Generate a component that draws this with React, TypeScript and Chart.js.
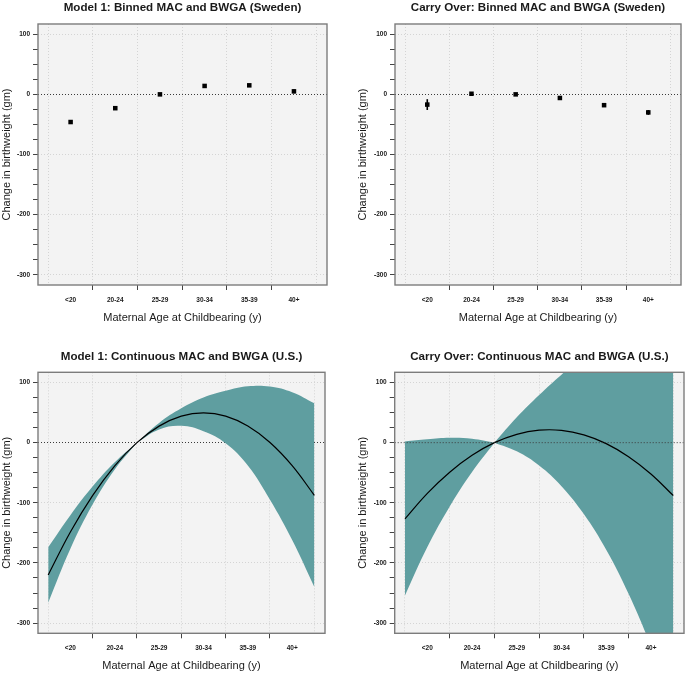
import React, { useEffect, useRef } from 'react';
import { Chart, registerables } from 'chart.js';

Chart.register(...registerables);

const FONT = "'Liberation Sans', Arial, Helvetica, sans-serif";

// ---- shared axis content ----
const ageBins = ['<20', '20-24', '25-29', '30-34', '35-39', '40+'];
const binPos = [1, 2, 3, 4, 5, 6];
const binEdges = [0.5, 1.5, 2.5, 3.5, 4.5, 5.5, 6.5];
const binTickMarks = [1.5, 2.5, 3.5, 4.5, 5.5];
const yTicks = [-300, -275, -250, -225, -200, -175, -150, -125, -100, -75, -50, -25, 0, 25, 50, 75, 100];
const yLabelled = [-300, -200, -100, 0, 100];
const xRange = [0.27, 6.74];
const yRange = [-317, 117];
const zeroRef = 0;

// ---- Panel 1: Model 1, binned (Sweden) ----
const swedenModel1 = [-46, -23, 0, 14, 15, 5];
const swedenModel1Err = [2, 1.5, 0, 1.5, 2, 3];

// ---- Panel 2: Carry over, binned (Sweden) ----
const swedenCarry = [-17, 1, 0, -6, -18, -30];
const swedenCarryErr = [9, 1.5, 0, 1.5, 2, 4];

// ---- continuous panels: positions on the bin axis (age 15 .. 45) ----
const contPos = [0.5, 1, 1.5, 2, 2.5, 3, 3.5, 4, 4.5, 5, 5.5, 6, 6.5];
const refIndex = 4; // reference age (25), where the band pinches to zero

// Panel 3: Model 1, continuous (U.S.)
const usModel1Fit = [-220, -148.5, -88, -38.5, 0, 27.5, 44.1, 49.6, 44.2, 27.7, 0.3, -38.2, -87.5];
const usModel1Upper = [-174, -120.5, -73, -32.5, 0, 32.8, 57.1, 75.1, 86.2, 93.7, 93.3, 83.8, 65.5];
const usModel1Lower = [-266, -176.5, -103, -44.5, 0, 22, 28, 19, -1, -38, -95, -162, -240];

// Panel 4: Carry over, continuous (U.S.)
const usCarryFit = [-126.7, -84.3, -49.1, -21.0, 0, 13.9, 20.7, 20.4, 12.9, -1.6, -23.3, -52.0, -87.9];
const usCarryUpper = [2, 5.5, 8, 6.5, 0, 42.1, 79.3, 113.1, 144.6, 175, 204.7, 234.5, 264.5];
const usCarryLower = [-254, -173.5, -106.1, -48.8, 0, -14.3, -37.9, -72.3, -118.8, -178.2, -251.3, -338.5, -440.3];

const BAND = '#5f9ea0';
const GRID = '#d4d4d4';
const PLOT_BG = '#f3f3f3';
const FRAME = '#7c7c7c';
const TICK = '#444444';
const TEXT = '#1a1a1a';

const pts = (xs: number[], ys: number[]) => xs.map((x, i) => ({ x, y: ys[i] }));

type PanelSpec = {
  left: number; top: number; width: number; height: number;
  padTop: number; padRight: number; yAxisW: number; xAxisH: number;
  xTitlePB: number; yTitlePT: number; titleY: number; title: string;
  datasets: any[];
  errors?: { x: number[]; y: number[]; e: number[] };
  zeroOnGrid: boolean;
};

function makeDecor(spec: PanelSpec) {
  return {
    id: 'panelDecor',
    beforeDraw(chart: any) {
      const { ctx, chartArea: a } = chart;
      ctx.save();
      ctx.fillStyle = PLOT_BG;
      ctx.fillRect(a.left, a.top, a.right - a.left, a.bottom - a.top);
      ctx.restore();
    },
    afterDatasetsDraw(chart: any) {
      const { ctx, chartArea: a } = chart;
      const xs = chart.scales.x;
      const ys = chart.scales.y;
      if (spec.errors) {
        const { x, y, e } = spec.errors;
        ctx.save();
        ctx.strokeStyle = '#000';
        ctx.lineWidth = 1.6;
        for (let i = 0; i < x.length; i++) {
          if (!e[i]) continue;
          const px = xs.getPixelForValue(x[i]);
          ctx.beginPath();
          ctx.moveTo(px, ys.getPixelForValue(y[i] - e[i]));
          ctx.lineTo(px, ys.getPixelForValue(y[i] + e[i]));
          ctx.stroke();
        }
        ctx.restore();
      }
      ctx.save();
      ctx.strokeStyle = FRAME;
      ctx.lineWidth = 1.4;
      ctx.strokeRect(a.left, a.top, a.right - a.left, a.bottom - a.top);
      ctx.restore();
    },
    afterDraw(chart: any) {
      const { ctx, chartArea: a } = chart;
      ctx.save();
      ctx.font = `bold 11.6px ${FONT}`;
      ctx.fillStyle = TEXT;
      ctx.textAlign = 'center';
      ctx.textBaseline = 'alphabetic';
      ctx.fillText(spec.title, (a.left + a.right) / 2, spec.titleY);
      ctx.restore();
    },
  };
}

function Panel({ spec }: { spec: PanelSpec }) {
  const ref = useRef<HTMLCanvasElement | null>(null);
  useEffect(() => {
    if (!ref.current) return;
    const tickFont = { family: FONT, size: 6.5, weight: 'bold' as const };
    const chart = new Chart(ref.current, {
      type: 'line',
      data: { datasets: spec.datasets },
      plugins: [makeDecor(spec)],
      options: {
        animation: false,
        responsive: false,
        devicePixelRatio: 1,
        layout: { padding: { top: spec.padTop, right: spec.padRight, left: 0, bottom: 0 } },
        plugins: { legend: { display: false }, tooltip: { enabled: false }, title: { display: false } },
        elements: { point: { radius: 0 }, line: { capBezierPoints: false } },
        scales: {
          x: {
            type: 'linear',
            min: xRange[0],
            max: xRange[1],
            afterBuildTicks: (s: any) => {
              const vals = [...binEdges, ...binPos].sort((p, q) => p - q);
              s.ticks = vals.map((v) => ({ value: v }));
            },
            afterFit: (s: any) => { s.height = spec.xAxisH; },
            grid: {
              drawOnChartArea: true,
              drawTicks: true,
              tickLength: 5,
              lineWidth: 1,
              color: (c: any) => (c.tick && binEdges.includes(c.tick.value) ? GRID : 'rgba(0,0,0,0)'),
              tickColor: (c: any) => (c.tick && binTickMarks.includes(c.tick.value) ? TICK : 'rgba(0,0,0,0)'),
              tickWidth: 1,
            },
            border: { display: false, dash: [1, 2] },
            ticks: {
              autoSkip: false,
              maxRotation: 0,
              minRotation: 0,
              padding: 6,
              color: TEXT,
              font: tickFont,
              callback: (v: any) => {
                const i = binPos.indexOf(Number(v));
                return i >= 0 ? ageBins[i] : '';
              },
            },
            title: {
              display: true,
              text: 'Maternal Age at Childbearing (y)',
              color: TEXT,
              font: { family: FONT, size: 11 },
              padding: { top: 0, bottom: spec.xTitlePB },
            },
          },
          y: {
            type: 'linear',
            min: yRange[0],
            max: yRange[1],
            afterBuildTicks: (s: any) => { s.ticks = yTicks.map((v) => ({ value: v })); },
            afterFit: (s: any) => { s.width = spec.yAxisW; },
            grid: {
              drawOnChartArea: true,
              drawTicks: true,
              tickLength: 5,
              lineWidth: 1,
              color: (c: any) => {
                const v = c.tick ? c.tick.value : NaN;
                if (v === zeroRef) return spec.zeroOnGrid ? '#3a3a3a' : 'rgba(0,0,0,0)';
                return yLabelled.includes(v) ? GRID : 'rgba(0,0,0,0)';
              },
              tickColor: TICK,
              tickWidth: 1,
            },
            border: { display: false, dash: [1, 2] },
            ticks: {
              autoSkip: false,
              padding: 3,
              color: TEXT,
              font: tickFont,
              callback: (v: any) => (yLabelled.includes(Number(v)) ? String(v) : ''),
            },
            title: {
              display: true,
              text: 'Change in birthweight (gm)',
              color: TEXT,
              font: { family: FONT, size: 11 },
              padding: { top: spec.yTitlePT, bottom: 0 },
            },
          },
        },
      } as any,
    });
    return () => chart.destroy();
  }, []);
  return (
    <canvas
      ref={ref}
      width={spec.width}
      height={spec.height}
      style={{ position: 'absolute', left: spec.left, top: spec.top, width: spec.width, height: spec.height }}
    />
  );
}

const pointSet = (ys: number[]) => ({
  data: pts(binPos, ys),
  showLine: false,
  pointStyle: 'rect',
  pointRadius: 3.2,
  pointBackgroundColor: '#000',
  pointBorderColor: '#000',
  pointBorderWidth: 0,
});

const edgeSet = (xs: number[], ys: number[], fill: any) => ({
  data: pts(xs, ys),
  borderWidth: 0,
  borderColor: 'rgba(0,0,0,0)',
  backgroundColor: BAND,
  tension: 0.4,
  fill,
  pointRadius: 0,
});

const bandSets = (fit: number[], upper: number[], lower: number[]) => {
  const xl = contPos.slice(0, refIndex + 1);
  const xr = contPos.slice(refIndex);
  return [
    {
      data: pts(contPos, fit),
      borderColor: '#000',
      borderWidth: 1.2,
      tension: 0.4,
      fill: false,
      pointRadius: 0,
    },
    edgeSet(xl, upper.slice(0, refIndex + 1), '+1'),
    edgeSet(xl, lower.slice(0, refIndex + 1), false),
    edgeSet(xr, upper.slice(refIndex), '+1'),
    edgeSet(xr, lower.slice(refIndex), false),
  ];
};

const zeroLineSet = {
  data: pts(xRange, [zeroRef, zeroRef]),
  borderColor: '#3a3a3a',
  borderWidth: 1,
  borderDash: [1, 2],
  fill: false,
  pointRadius: 0,
};

const panels: PanelSpec[] = [
  {
    left: 0, top: 0, width: 342, height: 340,
    padTop: 24, padRight: 15, yAxisW: 38, xAxisH: 55, xTitlePB: 15, yTitlePT: 0.4, titleY: 10.5,
    title: 'Model 1: Binned MAC and BWGA (Sweden)',
    datasets: [pointSet(swedenModel1)],
    errors: { x: binPos, y: swedenModel1, e: swedenModel1Err },
    zeroOnGrid: true,
  },
  {
    left: 342, top: 0, width: 343, height: 340,
    padTop: 24, padRight: 1, yAxisW: 53, xAxisH: 55, xTitlePB: 15, yTitlePT: 14.2, titleY: 10.5,
    title: 'Carry Over: Binned MAC and BWGA (Sweden)',
    datasets: [pointSet(swedenCarry)],
    errors: { x: binPos, y: swedenCarry, e: swedenCarryErr },
    zeroOnGrid: true,
  },
  {
    left: 0, top: 340, width: 342, height: 333,
    padTop: 32.3, padRight: 17, yAxisW: 38, xAxisH: 39.7, xTitlePB: 0, yTitlePT: 0.4, titleY: 19.5,
    title: 'Model 1: Continuous MAC and BWGA (U.S.)',
    datasets: bandSets(usModel1Fit, usModel1Upper, usModel1Lower),
    zeroOnGrid: true,
  },
  {
    left: 342, top: 340, width: 343, height: 333,
    padTop: 32.3, padRight: 1, yAxisW: 52.7, xAxisH: 39.7, xTitlePB: 0, yTitlePT: 14.2, titleY: 19.5,
    title: 'Carry Over: Continuous MAC and BWGA (U.S.)',
    datasets: [zeroLineSet, ...bandSets(usCarryFit, usCarryUpper, usCarryLower)],
    zeroOnGrid: false,
  },
];

export default function App() {
  return (
    <div style={{ position: 'fixed', left: 0, top: 0, width: 685, height: 673, background: '#fff', overflow: 'hidden' }}>
      {panels.map((p, i) => (
        <Panel key={i} spec={p} />
      ))}
    </div>
  );
}
